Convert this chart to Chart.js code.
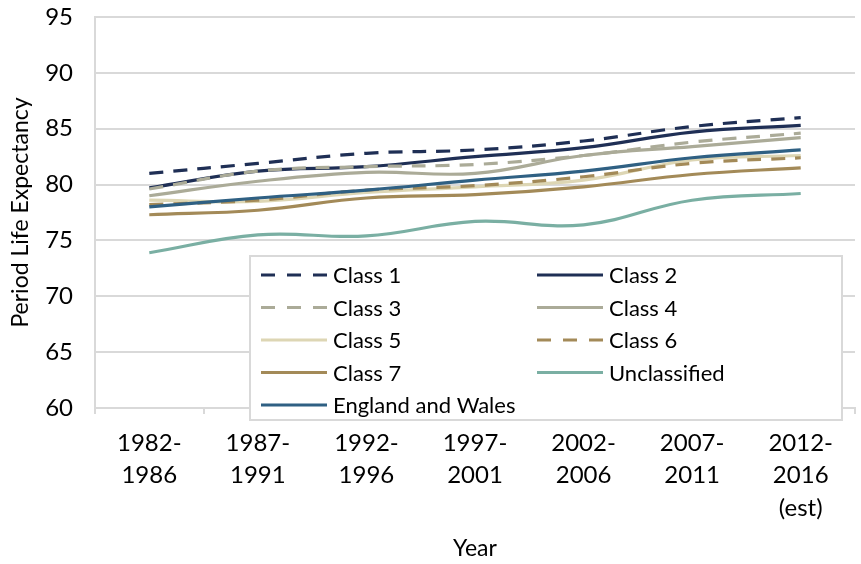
<!DOCTYPE html>
<html>
<head>
<meta charset="utf-8">
<script src="https://cdn.jsdelivr.net/npm/chart.js@4"></script>
<style>
  html, body { margin: 0; padding: 0; background: #fff; }
  #wrap { width: 861px; height: 564px; }
</style>
</head>
<body>
<div id="wrap"><canvas id="lifeChart" width="861" height="564"></canvas></div>
<script>
const periods = [['1982-', '1986'], ['1987-', '1991'], ['1992-', '1996'], ['1997-', '2001'],
                 ['2002-', '2006'], ['2007-', '2011'], ['2012-', '2016', '(est)']];

const class1        = [81.0, 81.9, 82.8, 83.1, 83.9, 85.2, 86.0];
const class2        = [79.7, 81.2, 81.6, 82.5, 83.3, 84.7, 85.3];
const class3        = [79.6, 81.2, 81.6, 81.8, 82.6, 83.8, 84.6];
const class4        = [79.0, 80.3, 81.1, 81.0, 82.6, 83.4, 84.2];
const class5        = [78.6, 78.5, 79.3, 79.8, 80.4, 82.2, 82.6];
const class6        = [78.2, 78.6, 79.5, 79.9, 80.7, 81.9, 82.4];
const class7        = [77.3, 77.7, 78.8, 79.1, 79.8, 80.9, 81.5];
const unclassified  = [73.9, 75.5, 75.4, 76.7, 76.4, 78.6, 79.2];
const englandWales  = [78.0, 78.8, 79.5, 80.4, 81.2, 82.4, 83.1];

const FONT = 'Lato, "Open Sans", sans-serif';
const navy = '#1f2f55', sage = '#abab98', cream = '#ddd6b4', brown = '#a38a58',
      teal = '#7aafa3', blue = '#2f6083';
const dash = [14, 10];

function series(label, data, color, dashed) {
    return { label, data, borderColor: color, backgroundColor: color, borderWidth: 3.2,
             borderDash: dashed ? dash : [], tension: 0.4, fill: false, pointRadius: 0,
             borderCapStyle: 'butt' };
}

const allSeries = [
    series('Class 1', class1, navy, true),
    series('Class 2', class2, navy, false),
    series('Class 3', class3, sage, true),
    series('Class 4', class4, sage, false),
    series('Class 5', class5, cream, false),
    series('Class 6', class6, brown, true),
    series('Class 7', class7, brown, false),
    series('Unclassified', unclassified, teal, false),
    series('England and Wales', englandWales, blue, false)
];

// legend drawn inside the plot, two columns like the original
const boxLegend = {
    id: 'boxLegend',
    afterDraw(chart) {
        const ctx = chart.ctx;
        const left = 250, top = 256, right = 842, bottom = 420;
        ctx.save();
        ctx.fillStyle = '#fff';
        ctx.fillRect(left, top, right - left, bottom - top);
        ctx.strokeStyle = '#d9d9d9';
        ctx.lineWidth = 2;
        ctx.strokeRect(left, top, right - left, bottom - top);
        const cols = [261, 537];
        const rowY = 275, rowStep = 32.5;
        ctx.font = '22px ' + FONT;
        ctx.textBaseline = 'middle';
        allSeries.forEach((ds, i) => {
            const cx = cols[i % 2];
            const cy = rowY + Math.floor(i / 2) * rowStep;
            ctx.beginPath();
            ctx.setLineDash(ds.borderDash.length ? [14, 12] : []);
            ctx.strokeStyle = ds.borderColor;
            ctx.lineWidth = 3.2;
            ctx.moveTo(cx, cy);
            ctx.lineTo(cx + 66, cy);
            ctx.stroke();
            ctx.setLineDash([]);
            ctx.fillStyle = '#000';
            ctx.fillText(ds.label, cx + 72, cy + 1);
        });
        ctx.restore();
    }
};

new Chart(document.getElementById('lifeChart'), {
    type: 'line',
    data: {
        labels: periods,
        // reversed so England and Wales is painted last, on top
        datasets: allSeries.slice().reverse()
    },
    options: {
        responsive: false,
        animation: false,
        layout: { padding: { top: 17, right: 6, left: 0, bottom: 0 } },
        plugins: { legend: { display: false }, tooltip: { enabled: false } },
        scales: {
            x: {
                offset: true,
                grid: { display: true, drawOnChartArea: false, offset: true, color: '#d9d9d9',
                        tickLength: 6, lineWidth: 2 },
                border: { color: '#d9d9d9', width: 2 },
                ticks: { color: '#000', padding: 13, maxRotation: 0, autoSkip: false,
                         font: { family: FONT, size: 24, lineHeight: 1.35 } },
                title: { display: true, text: 'Year', color: '#000',
                         font: { family: FONT, size: 23 }, padding: { top: 0, bottom: 2 } },
                afterFit: s => { s.height = 156; }
            },
            y: {
                min: 60, max: 95,
                ticks: { stepSize: 5, color: '#000', padding: 22,
                         font: { family: FONT, size: 24 } },
                grid: { color: '#d9d9d9', lineWidth: 2, drawTicks: false },
                border: { color: '#d9d9d9', width: 2 },
                title: { display: true, text: 'Period Life Expectancy', color: '#000',
                         font: { family: FONT, size: 23 }, padding: { top: 7, bottom: 0 } },
                afterFit: s => { s.width = 95; s.paddingTop = 0; s.paddingBottom = 0; }
            }
        }
    },
    plugins: [boxLegend]
});
</script>
</body>
</html>
